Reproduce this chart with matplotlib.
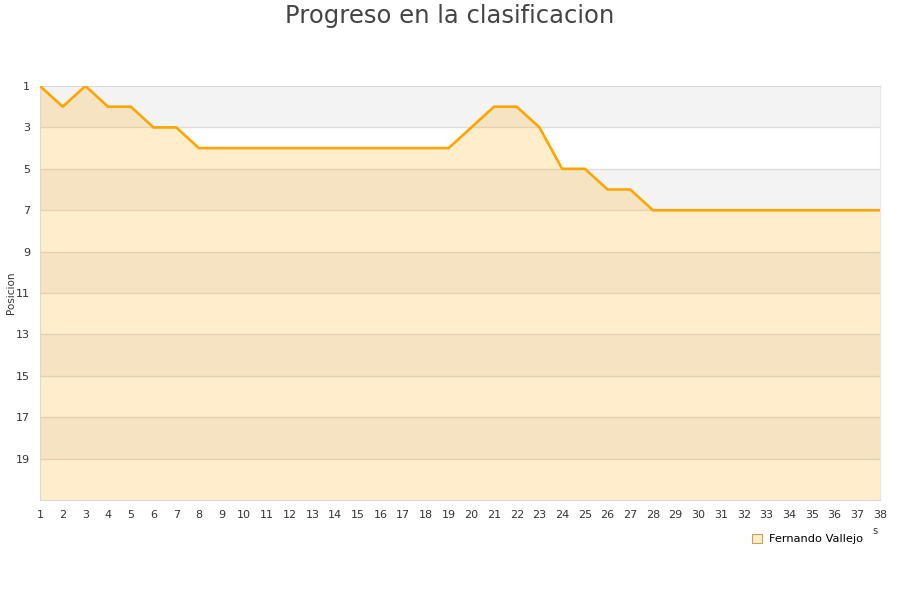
import numpy as np
import matplotlib.pyplot as plt
from matplotlib.patches import Patch

# Datos: posicion en cada jornada
jornadas = list(range(1, 39))
posicion = [1, 2, 1, 2, 2, 3, 3, 4, 4, 4,
            4, 4, 4, 4, 4, 4, 4, 4, 4, 3,
            2, 2, 3, 5, 5, 6, 6, 7, 7, 7,
            7, 7, 7, 7, 7, 7, 7, 7]
jugador = 'Fernando Vallejo'
y_ticks = list(range(1, 21, 2))

naranja = '#FFA500'

fig = plt.figure(figsize=(9, 6), dpi=100)
ax = fig.add_axes([40 / 900, 1 - 500 / 600, 840 / 900, 414 / 600])

# Bandas alternas del fondo
for y0 in range(1, 21, 4):
    ax.axhspan(y0, y0 + 2, color='#f3f3f3', zorder=0, lw=0)
for y in y_ticks[1:]:
    ax.axhline(y, color='#dddddd', lw=1, zorder=1)

ax.fill_between(jornadas, posicion, 21, color=naranja, alpha=0.2, lw=0, zorder=2)
ax.plot(jornadas, posicion, color=naranja, lw=1.9, zorder=3)

ax.set_xlim(1, 38)
ax.set_ylim(21, 1)
ax.set_xticks(jornadas)
ax.set_yticks(y_ticks)
ax.tick_params(length=0, labelsize=8, colors='#333333')
ax.tick_params(axis='x', pad=7)
ax.tick_params(axis='y', pad=7)
for s in ax.spines.values():
    s.set_color('#d8d8d8')
ax.spines['right'].set_color('#e6e6e6')

ax.set_ylabel('Posicion', fontsize=7.5, color='#333333')
ax.yaxis.set_label_coords(-0.029, 0.5)
fig.text(0.5, 0.993, 'Progreso en la clasificacion', ha='center', va='top',
         fontsize=17.5, color='#444444')
fig.text(875 / 900, 1 - 531 / 600, 's', ha='center', va='center',
         fontsize=7, color='#333333')

handle = Patch(facecolor='#ffedcc', edgecolor='#c9a25a', lw=0.8)
fig.legend([handle], [jugador], loc='center', bbox_to_anchor=(808 / 900, 1 - 539 / 600),
           frameon=False, fontsize=8.2, handlelength=0.8, handleheight=0.8,
           handletextpad=0.7)

fig.savefig('out.png', dpi=100)
